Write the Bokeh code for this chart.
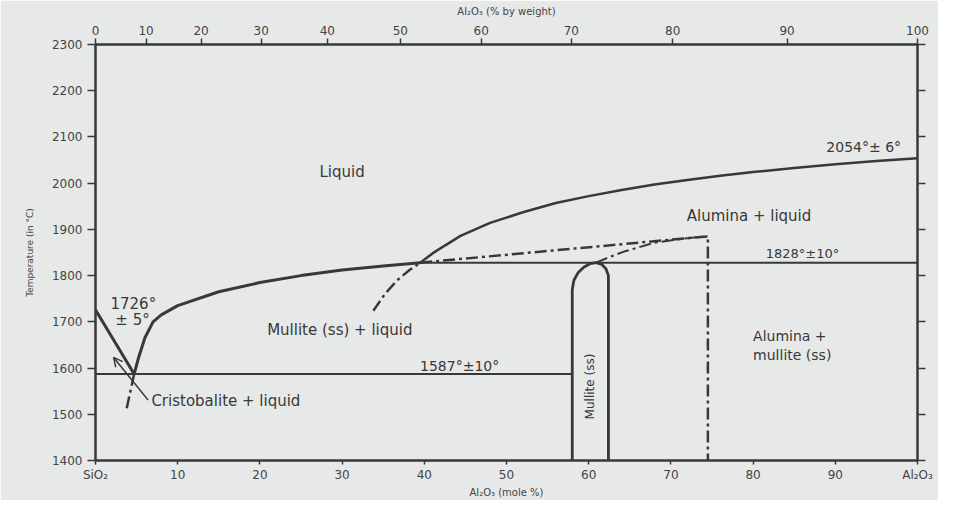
from bokeh.plotting import figure
from bokeh.models import (LinearAxis, FixedTicker, CustomJSTickFormatter, Label,
                          Range1d, Arrow, OpenHead)
from bokeh.embed import file_html
from bokeh.resources import INLINE

# ---------------- data ----------------
mole_ticks = [0, 10, 20, 30, 40, 50, 60, 70, 80, 90, 100]
mole_end_labels = {0: "SiO₂", 100: "Al₂O₃"}
weight_ticks = [0, 10, 20, 30, 40, 50, 60, 70, 80, 90, 100]
temp_ticks = [1400, 1500, 1600, 1700, 1800, 1900, 2000, 2100, 2200, 2300]
M_AL2O3 = 101.96
M_SIO2 = 60.08

# cristobalite liquidus
cris_x = [0, 2.3, 4.7]
cris_t = [1726, 1658, 1587]
# metastable continuation below the eutectic
cris_meta_x = [4.7, 3.7]
cris_meta_t = [1587, 1505]
# mullite liquidus
mul_liq_x = [4.7, 5.2, 6.0, 7.0, 8.0, 10, 15, 20, 25, 30, 35, 39.5]
mul_liq_t = [1587, 1620, 1665, 1700, 1715, 1735, 1765, 1785, 1800, 1812, 1821, 1828]
# alumina liquidus
alu_liq_x = [39.5, 41, 42.5, 44.4, 48, 52, 56, 60, 64, 68, 72, 76, 80, 85, 90, 95, 100]
alu_liq_t = [1828, 1848, 1865, 1886, 1914, 1937, 1957, 1972, 1985, 1997, 2007, 2016, 2024, 2033, 2041, 2048, 2054]
# metastable alumina liquidus (dash-dot) below the peritectic
alu_meta_x = [33.8, 35.2, 36.7, 38.2, 39.5]
alu_meta_t = [1724, 1760, 1790, 1812, 1828]
# eutectic and peritectic lines
eut_x = [0, 58.0]
eut_t = [1587, 1587]
per_x = [39.5, 100]
per_t = [1828, 1828]
# metastable straight dash-dot and vertical
meta_line_x = [39.5, 74.5, 74.5]
meta_line_t = [1828, 1885, 1400]
# metastable mullite curve
mul_meta_x = [60.9, 62.5, 64.3, 68, 72, 74.5]
mul_meta_t = [1828, 1840, 1852, 1871, 1881, 1885]
# mullite solid solution field
mss_x = [58.0, 58.0, 58.2, 58.7, 59.4, 60.2, 60.9, 61.6, 62.1, 62.4, 62.4]
mss_t = [1400, 1770, 1790, 1806, 1818, 1826, 1828, 1824, 1815, 1800, 1400]

weight_tick_pos = [100 * (w / M_AL2O3) / ((w / M_AL2O3) + ((100 - w) / M_SIO2)) for w in weight_ticks]

INK = "#383838"
BG = "#e7e9e8"
FONT = "DejaVu Sans"

p = figure(output_backend="svg", toolbar_location=None,
           frame_width=822, frame_height=416,
           min_border_left=95, min_border_right=21, min_border_top=44, min_border_bottom=37,
           x_range=Range1d(0, 100), y_range=Range1d(1400, 2300),
           x_axis_location=None, y_axis_location=None)
p.background_fill_color = BG
p.border_fill_color = BG
p.outline_line_color = INK
p.outline_line_width = 2
p.grid.visible = False

def style_axis(ax):
    ax.axis_line_color = INK
    ax.axis_line_width = 2
    ax.major_tick_line_color = INK
    ax.major_tick_line_width = 1.5
    ax.minor_tick_line_color = None
    ax.major_tick_in = 0
    ax.major_label_text_color = "#444444"
    ax.major_label_text_font = FONT
    ax.major_label_text_font_size = "12px"
    ax.axis_label_text_font = FONT
    ax.axis_label_text_font_style = "normal"
    ax.axis_label_text_color = "#444444"

# left axis
ax_l = LinearAxis(ticker=FixedTicker(ticks=temp_ticks), axis_label="Temperature (in °C)")
style_axis(ax_l)
ax_l.major_tick_out = 8
ax_l.major_label_standoff = 5
ax_l.axis_label_standoff = 14
ax_l.axis_label_text_font_size = "9px"
p.add_layout(ax_l, "left")

# right axis (ticks only)
ax_r = LinearAxis(ticker=FixedTicker(ticks=temp_ticks),
                  major_label_overrides={t: "" for t in temp_ticks})
style_axis(ax_r)
ax_r.major_tick_out = 8
p.add_layout(ax_r, "right")

# bottom axis (mole %)
ax_b = LinearAxis(ticker=FixedTicker(ticks=mole_ticks), axis_label="Al₂O₃ (mole %)",
                  major_label_overrides=mole_end_labels)
style_axis(ax_b)
ax_b.major_label_text_font_size = "12px"
ax_b.major_tick_out = 4
ax_b.major_label_standoff = 3
ax_b.axis_label_standoff = 2
ax_b.axis_label_text_font_size = "10px"
p.add_layout(ax_b, "below")

# top axis (% by weight)
ax_t = LinearAxis(ticker=FixedTicker(ticks=weight_tick_pos), axis_label="Al₂O₃ (% by weight)",
                  formatter=CustomJSTickFormatter(args=dict(a=M_AL2O3, s=M_SIO2), code="""
                      const w = 100*tick*a/(tick*a + (100-tick)*s);
                      return Math.round(w).toString();
                  """))
style_axis(ax_t)
ax_t.major_tick_out = 6
ax_t.major_label_standoff = 4
ax_t.axis_label_standoff = 6
ax_t.axis_label_text_font_size = "10px"
p.add_layout(ax_t, "above")

DASHDOT = "12 4 3 4"

# curves
p.line(cris_x, cris_t, line_color=INK, line_width=3)
p.line(mul_liq_x, mul_liq_t, line_color=INK, line_width=3)
p.line(alu_liq_x, alu_liq_t, line_color=INK, line_width=2.5)
p.line(eut_x, eut_t, line_color=INK, line_width=2)
p.line(per_x, per_t, line_color=INK, line_width=2)
p.line(mss_x, mss_t, line_color=INK, line_width=2.8)
p.line(cris_meta_x, cris_meta_t, line_color=INK, line_width=2.5, line_dash=DASHDOT)
p.line(alu_meta_x, alu_meta_t, line_color=INK, line_width=2.5, line_dash=DASHDOT)
p.line(meta_line_x, meta_line_t, line_color=INK, line_width=2.5, line_dash=DASHDOT)
p.line(mul_meta_x, mul_meta_t, line_color=INK, line_width=2, line_dash=DASHDOT)

# arrow
arrow_tail = (6.4, 1531)
arrow_head = (2.2, 1623)
p.add_layout(Arrow(end=OpenHead(size=9, line_width=1.5, line_color=INK),
                   x_start=arrow_tail[0], y_start=arrow_tail[1],
                   x_end=arrow_head[0], y_end=arrow_head[1],
                   line_width=1.5, line_color=INK))

def lab(x, y, text, size="13px", align="center", baseline="middle", angle=0):
    p.add_layout(Label(x=x, y=y, text=text, text_font=FONT, text_font_size=size,
                       text_color=INK, text_align=align, text_baseline=baseline,
                       angle=angle, angle_units="deg"))

lab(30, 2025, "Liquid", "15px")
lab(98, 2060, "2054°± 6°", "14px", align="right", baseline="bottom")
lab(79.5, 1930, "Alumina + liquid", "15px")
lab(86, 1848, "1828°±10°", "13px")
lab(80, 1670, "Alumina  +", "14px", align="left")
lab(80, 1628, "mullite (ss)", "14px", align="left")
lab(60.2, 1560, "Mullite (ss)", "12px", angle=90)
lab(44.3, 1605, "1587°±10°", "14px")
lab(30.3, 1683, "Mullite (ss)  +  liquid", "15px")
lab(6.8, 1528, "Cristobalite  +  liquid", "15px", align="left")
lab(4.6, 1739, "1726°", "15px")
lab(4.5, 1704, "± 5°", "15px")

open("out.html", "w").write(file_html(p, INLINE))
